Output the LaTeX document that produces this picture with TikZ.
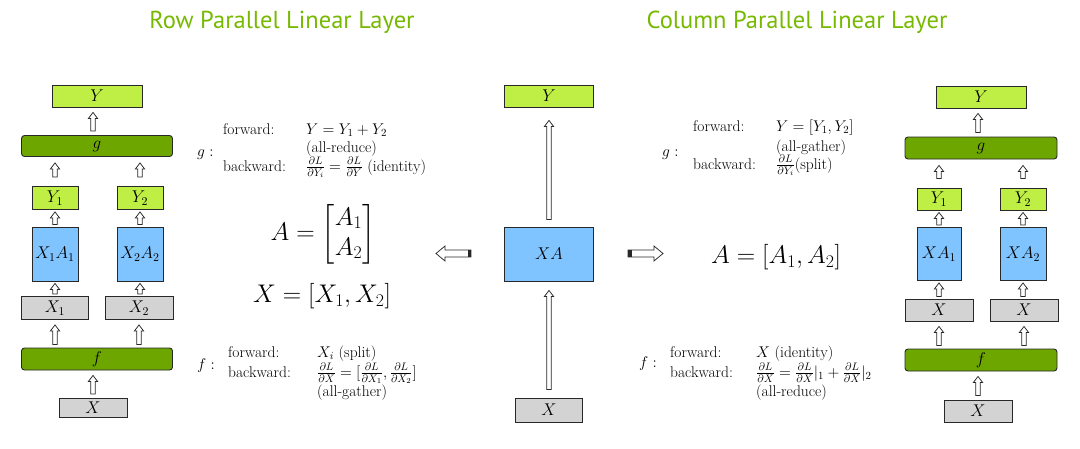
\RequirePackage{fix-cm}
\documentclass[tikz,border=0pt]{standalone}
\usepackage{fontspec}
\usepackage{amsmath}
\newfontfamily\titlefont{PT Sans}
\usetikzlibrary{calc}
\definecolor{lgreen}{RGB}{191,239,69}
\definecolor{dgreen}{RGB}{110,166,0}
\definecolor{lblue}{RGB}{128,196,255}
\definecolor{lgray}{RGB}{211,211,211}
\definecolor{titlegreen}{RGB}{118,185,0}
\definecolor{edge}{RGB}{40,40,40}
\definecolor{txt}{RGB}{0,0,0}
\tikzset{
  box/.style={draw=edge, line width=0.9pt, inner sep=0pt, text=txt, font=\fontsize{17}{19}\selectfont},
  ybox/.style={box, fill=lgreen},
  gbox/.style={box, fill=dgreen, rounded corners=3pt},
  bbox/.style={box, fill=lblue},
  xbox/.style={box, fill=lgray},
  hol/.style={draw=edge, fill=white, line width=0.75pt, line join=miter},
  ann/.style={anchor=base west, inner sep=0pt, text=txt, font=\fontsize{15.5}{18}\selectfont},
  big/.style={inner sep=0pt, text=txt, font=\fontsize{25.5}{30}\selectfont},
  title/.style={inner sep=0pt, text=titlegreen, font=\titlefont\fontsize{24.5}{28}\selectfont}
}
% hollow upward arrow: #1 start, #2 end, #3 gap at start, #4 gap at end
\newcommand\hupa[4]{%
  \draw[hol] let \p1=(#1), \p2=(#2) in
    (\x1-2.3pt,\y1+#3) -- (\x1-2.3pt,\y2-#4-6pt) -- (\x1-4.6pt,\y2-#4-6pt) --
    (\x1,\y2-#4) -- (\x1+4.6pt,\y2-#4-6pt) -- (\x1+2.3pt,\y2-#4-6pt) --
    (\x1+2.3pt,\y1+#3) -- cycle;}
\begin{document}
\begin{tikzpicture}[x=1pt, y=-1pt]
\useasboundingbox (0,0) rectangle (1080,448);
% titles
\node[title] (t1) at (282,22) {Row Parallel Linear Layer};
\node[title] (t2) at (797,22) {Column Parallel Linear Layer};

% ---------- left diagram ----------
\node[ybox, minimum width=90, minimum height=22] (LY) at (97,96) {$Y$};
\node[gbox, minimum width=151, minimum height=21] (Lg) at (97,146) {$g$};
\node[ybox, minimum width=46, minimum height=23] (LY1) at (55,198) {$Y_1$};
\node[ybox, minimum width=46, minimum height=23] (LY2) at (140,198) {$Y_2$};
\node[bbox, minimum width=46, minimum height=54] (LXA1) at (55,254) {$X_1A_1$};
\node[bbox, minimum width=46, minimum height=54] (LXA2) at (140,254) {$X_2A_2$};
\node[xbox, minimum width=67, minimum height=23] (LX1) at (55,308) {$X_1$};
\node[xbox, minimum width=68, minimum height=23] (LX2) at (139,308) {$X_2$};
\node[gbox, minimum width=151, minimum height=22] (Lf) at (97,359) {$f$};
\node[xbox, minimum width=68, minimum height=19] (LX) at (93,408) {$X$};

\hupa{Lg.north -| LX}{LY.south -| LX}{4pt}{5pt}
\hupa{LY1.north}{Lg.south -| LY1}{9pt}{6pt}
\hupa{LY2.north}{Lg.south -| LY2}{9pt}{6pt}
\hupa{LXA1.north}{LY1.south}{2pt}{2pt}
\hupa{LXA2.north}{LY2.south}{2pt}{2pt}
\hupa{LX1.north}{LXA1.south}{2pt}{2pt}
\hupa{LX2.north -| LXA2}{LXA2.south}{2pt}{2pt}
\hupa{Lf.north -| LX1}{LX1.south}{3pt}{5pt}
\hupa{Lf.north -| LX2}{LX2.south}{3pt}{5pt}
\hupa{LX.north}{Lf.south -| LX}{4pt}{5pt}

% left annotations
\node[ann] (lgc) at (197,156) {$g:$};
\node[ann] (lgf) at (223,134) {forward:};
\node[ann] (lgfe) at (306,134) {$Y = Y_1 + Y_2$};
\node[ann] (lgfr) at (306,152) {(all-reduce)};
\node[ann] (lgb) at (223,171) {backward:};
\node[ann] (lgbe) at (306,171) {$\frac{\partial L}{\partial Y_i} = \frac{\partial L}{\partial Y}$ (identity)};

\node[big] (lA) at (323,234) {$A = \begin{bmatrix} A_1 \\ A_2 \end{bmatrix}$};
\node[big] (lX) at (322,296) {$X = [X_1, X_2]$};

\node[ann] (lfc) at (197,369) {$f:$};
\node[ann] (lff) at (228,357) {forward:};
\node[ann] (lffe) at (317,357) {$X_i$ (split)};
\node[ann] (lfb) at (228,377) {backward:};
\node[ann] (lfbe) at (317,377) {$\frac{\partial L}{\partial X} = [\frac{\partial L}{\partial X_1}, \frac{\partial L}{\partial X_2}]$};
\node[ann] (lfbr) at (317,396) {(all-gather)};

% ---------- center ----------
\node[ybox, minimum width=89, minimum height=22] (CY) at (549,96) {$Y$};
\node[bbox, minimum width=89, minimum height=54] (CXA) at (549,254) {$XA$};
\node[xbox, minimum width=67, minimum height=24] (CX) at (549,410) {$X$};
\hupa{CX.north}{CXA.south}{8pt}{9pt}
\hupa{CXA.north}{CY.south}{7pt}{13pt}

% horizontal hollow arrows with dark tails
\coordinate (la) at (471,253.5);
\coordinate (lb) at (436,253.5);
\coordinate (ra) at (628,253.5);
\coordinate (rb) at (663,253.5);
\draw[hol] (la) ++(0,-3.5) -- ($(lb)+(9,-3.5)$) -- ($(lb)+(9,-7.5)$) -- (lb)
  -- ($(lb)+(9,7.5)$) -- ($(lb)+(9,3.5)$) -- ($(la)+(0,3.5)$) -- cycle;
\draw[hol] (ra) ++(0,-3.5) -- ($(rb)+(-9,-3.5)$) -- ($(rb)+(-9,-7.5)$) -- (rb)
  -- ($(rb)+(-9,7.5)$) -- ($(rb)+(-9,3.5)$) -- ($(ra)+(0,3.5)$) -- cycle;
\fill[edge] ($(la)+(-3.5,-3.5)$) rectangle ($(la)+(0,3.5)$);
\fill[edge] ($(ra)+(0,-3.5)$) rectangle ($(ra)+(3.5,3.5)$);

% ---------- right diagram ----------
\node[ybox, minimum width=90, minimum height=22] (RY) at (981,97) {$Y$};
\node[gbox, minimum width=152, minimum height=22] (Rg) at (981,148) {$g$};
\node[ybox, minimum width=44, minimum height=22] (RY1) at (939,199) {$Y_1$};
\node[ybox, minimum width=46, minimum height=22] (RY2) at (1023,199) {$Y_2$};
\node[bbox, minimum width=44, minimum height=53] (RXA1) at (939,254) {$XA_1$};
\node[bbox, minimum width=46, minimum height=53] (RXA2) at (1023,254) {$XA_2$};
\node[xbox, minimum width=68, minimum height=22] (RX1) at (939,310) {$X$};
\node[xbox, minimum width=68, minimum height=22] (RX2) at (1024,310) {$X$};
\node[gbox, minimum width=152, minimum height=22] (Rf) at (981,360) {$f$};
\node[xbox, minimum width=68, minimum height=22] (RX) at (978,411) {$X$};

\hupa{Rg.north -| RX}{RY.south -| RX}{4pt}{5pt}
\hupa{RY1.north}{Rg.south -| RY1}{9pt}{6pt}
\hupa{RY2.north}{Rg.south -| RY2}{9pt}{6pt}
\hupa{RXA1.north}{RY1.south}{2pt}{2pt}
\hupa{RXA2.north}{RY2.south}{2pt}{2pt}
\hupa{RX1.north -| RXA1}{RXA1.south}{2pt}{2pt}
\hupa{RX2.north -| RXA2}{RXA2.south}{2pt}{2pt}
\hupa{Rf.north -| RX1}{RX1.south}{3pt}{5pt}
\hupa{Rf.north -| RX2}{RX2.south}{3pt}{5pt}
\hupa{RX.north}{Rf.south -| RX}{4pt}{5pt}

% right annotations
\node[ann] (rgc) at (662,156) {$g:$};
\node[ann] (rgf) at (693,131) {forward:};
\node[ann] (rgfe) at (776,131) {$Y = [Y_1, Y_2]$};
\node[ann] (rgfr) at (776,151) {(all-gather)};
\node[ann] (rgb) at (693,169) {backward:};
\node[ann] (rgbe) at (776,169) {$\frac{\partial L}{\partial Y_i}$(split)};

\node[big] (rA) at (776,257) {$A = [A_1, A_2]$};

\node[ann] (rfc) at (639,367) {$f:$};
\node[ann] (rff) at (670,357) {forward:};
\node[ann] (rffe) at (756,357) {$X$ (identity)};
\node[ann] (rfb) at (670,377) {backward:};
\node[ann] (rfbe) at (756,377) {$\frac{\partial L}{\partial X} = \frac{\partial L}{\partial X}|_1 + \frac{\partial L}{\partial X}|_2$};
\node[ann] (rfbr) at (756,396) {(all-reduce)};
\end{tikzpicture}
\end{document}
